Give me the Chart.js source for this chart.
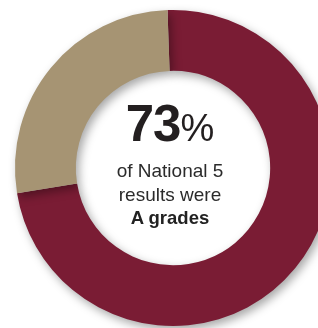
<!DOCTYPE html>
<html>
<head>
<meta charset="utf-8">
<script src="https://cdn.jsdelivr.net/npm/chart.js@4"></script>
<style>
    html, body { margin: 0; padding: 0; background: #ffffff; overflow: hidden; }
    #caixa { position: relative; width: 318px; height: 328px; overflow: hidden; }
    #grafico { position: absolute; left: 0; top: 0; }
    .linha { position: absolute; left: 70px; width: 200px; text-align: center; color: #231f20;
             font-family: "Liberation Sans", Arial, sans-serif; white-space: nowrap; }
    #grande { top: 99px; font-size: 51px; line-height: 50px; font-weight: bold; letter-spacing: -1px; }
    #grande span { font-size: 38px; font-weight: normal; letter-spacing: 0; }
    #l1 { top: 161px; font-size: 19px; line-height: 20px; color: #2b2b2b; }
    #l2 { top: 185px; font-size: 19px; line-height: 20px; color: #2b2b2b; }
    #l3 { top: 208px; font-size: 18.5px; line-height: 20px; font-weight: bold; color: #222; }
</style>
</head>
<body>
<div id="caixa">
    <canvas id="grafico" width="346" height="336"></canvas>
    <div class="linha" id="grande">73<span>%</span></div>
    <div class="linha" id="l1">of National 5</div>
    <div class="linha" id="l2">results were</div>
    <div class="linha" id="l3">A grades</div>
</div>
<script>
const categorias = ["A grades", "Outras notas"];
const percentuais = [73, 27];
const cores = ["#7a1c34", "#a69473"];

// sombra suave em volta do anel, como no original
const sombra = {
    id: "sombra",
    beforeDatasetsDraw(chart) {
        const ctx = chart.ctx;
        ctx.save();
        ctx.shadowColor = "rgba(0, 0, 0, 0.35)";
        ctx.shadowBlur = 10;
        ctx.shadowOffsetX = 3;
        ctx.shadowOffsetY = 4;
    },
    afterDatasetsDraw(chart) {
        chart.ctx.restore();
    }
};

new Chart(document.getElementById("grafico"), {
    type: "doughnut",
    data: {
        labels: categorias,
        datasets: [{
            data: percentuais,
            backgroundColor: cores,
            borderWidth: 0
        }]
    },
    options: {
        responsive: false,
        animation: false,
        rotation: -2,
        cutout: "61.5%",
        layout: { padding: 10 },
        plugins: {
            legend: { display: false },
            tooltip: { enabled: false }
        }
    },
    plugins: [sombra]
});
</script>
</body>
</html>
